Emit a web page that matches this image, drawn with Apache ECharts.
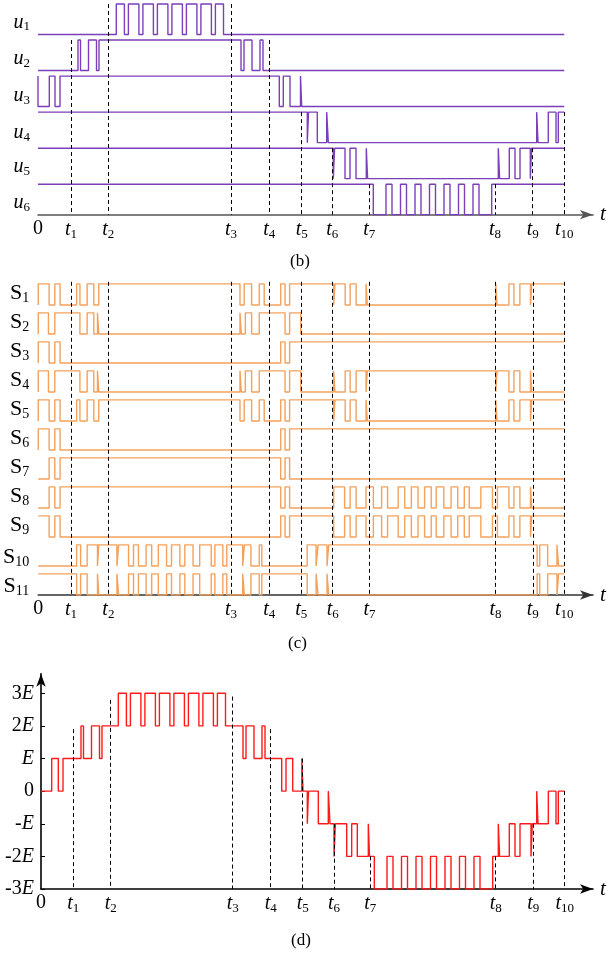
<!DOCTYPE html>
<html><head><meta charset="utf-8">
<script src="https://cdn.jsdelivr.net/npm/echarts@6/dist/echarts.min.js"></script>
<style>html,body{margin:0;padding:0;background:#fff}#c{width:608px;height:958px}</style>
</head><body><div id="c"></div>
<script>
// ---- tick positions (time) for each panel and labels
const tickLabels = ['0','1','2','3','4','5','6','7','8','9','10'];
const ticksB = [0,33,70.3,193,231.3,263.7,294.3,331.3,457,494.7,526.3];
const ticksC = [0,33,70.7,194.3,232.7,265,296.7,333.7,460.7,498.3,530];
const ticksD = [0,32.3,69.7,191.7,229.7,261.7,293,329.3,454.7,492.3,523.7];
// ---- panel (b): u1..u6 (start level 0/1, toggle times)
const uNames = ['1','2','3','4','5','6'];
const uStart = [0,0,1,1,1,1];
const u1 = [78.3,86.4,90.4,100.9,104.9,115.4,119.4,129.9,133.9,144.4,148.4,158.9,162.9,173.4,177.4,185.5];
const u2 = [40,42.5,50.5,58.5,61,203,206,214,222,225];
const u3 = [0,11.3,17,22,241.3,245.3,252,262.5,263.7];
const u4 = [269.3,270.5,279.3,288.7,290.3,498.7,500,510.3,518,520.3];
const u5 = [295.3,296.6,307,312,318,328.3,329.6,460.3,461.6,471.3,477,482,492.3,493.6];
const u6 = [335.3,348,354,362.5,368.5,377,383,391.5,397.5,406,412,420.5,426.5,435,441,453.7];
const uDashTop = [4.845,5.845,5.845,4.845,2.845,1.845,0.845,0.845,1.845,2.845];
// ---- panel (c): S1..S11
const sNames = ['1','2','3','4','5','6','7','8','9','10','11'];
const sStart = [0,0,0,0,0,0,0,0,1,0,1];
const S1 = [0,11,16.7,22,38.7,42,49.3,56,61,203.3,207.5,215,222.7,227.7,244.3,248.7,253.3,297.7,299,309.3,314.3,320.3,330.3,331.6,461,462.3,474.3,479.3,485.3,496,497.3];
const S2 = [0,10.3,16.7,42,49.3,56,59.7,61,203.3,204.6,208.7,215,222.7,248.7,253.3,264.5];
const S3 = [0,11,16.7,22,244.3,248.7,253.3];
const S4 = [0,10.3,16.7,42,49.3,56,59.7,61,203.3,204.6,208.7,215,222.7,248.7,253.3,264.5,297.7,299,309.3,314.3,320.3,330.3,331.6,461,462.3,474.3,479.3,485.3,496,497.3];
const S5 = [0,11,16.7,22,38.7,42,49.3,56,61,203.3,207.5,215,222.7,227.7,244.3,248.7,253.3,297.7,299,309.3,314.3,320.3,330.3,331.6,461,462.3,474.3,479.3,485.3,496,497.3];
const S6 = [0,11,16.7,22,244.3,248.7,253.3];
const S7 = [11,16.7,22,244.3,248.7,253.3];
const S8 = [11,16.7,22,244.3,248.7,253.3,297.7,308.7,314.3,320.3,330.3,337.7,346,352,362.7,369.3,376,382.7,389.3,396,401,408.7,416,422.7,429.3,434.3,446,457.7,462.7,474.3,479.3,485.3,496,497.3];
const S9 = [11,16.7,22,244.3,248.7,253.3,297.7,308.7,314.3,320.3,330.3,337.7,346,352,362.7,369.3,376,382.7,389.3,396,401,408.7,416,422.7,429.3,434.3,446,457.7,462.7,474.3,479.3,485.3,496,497.3];
const S10 = [38.7,42.7,49.3,59.7,61,79.3,81,91,96,101,108.7,114.3,121,129.3,134.3,142.7,147.7,156,162.7,174.3,178,186,190,206,207.7,214.3,222.7,225.3,271,280,282,291,292.7,502.7,505.3,513.3,522.7,524.3];
const S11 = [38.7,42.7,49.3,59.7,61,79.3,81,91,96,101,108.7,114.3,121,129.3,134.3,142.7,147.7,156,162.7,174.3,178,186,190,206,207.7,214.3,222.7,225.3,271,280,282,291,292.7,502.7,505.3,513.3,522.7,524.3];
const sDashTop = [10.8,10.8,10.8,10.8,10.8,10.8,10.8,10.8,10.8,10.8];
// ---- panel (d): output level (multiples of E) from each switching time
const dTimes = [0,10.7,17.3,22,40,42.5,50.5,58.5,61,
  77.3,85.4,89.4,99.9,103.9,114.4,118.4,128.9,132.9,143.4,147.4,157.9,161.9,172.4,176.4,184.5,
  202,205,213,221,224,240.7,245,251.7,260.8,262,266.3,267.5,277.3,287.3,289,293,294.4,305.7,310.7,316.3,327.3,328.5,
  333.3,346,352,360.5,366.5,375,381,389.5,395.5,404,410,418.5,424.5,433,439,451.7,
  457.3,458.6,468.3,474,479,490,491.3,495.7,497,507.3,515,517.3];
const dLevels = [0,1,0,1,2,1,2,1,2,
  3,2,3,2,3,2,3,2,3,2,3,2,3,2,3,2,
  1,2,1,2,1,0,1,0,1,0,-1,0,-1,0,-1,-2,-1,-2,-1,-2,-1,-2,
  -3,-2,-3,-2,-3,-2,-3,-2,-3,-2,-3,-2,-3,-2,-3,-2,
  -1,-2,-1,-2,-1,-2,-1,0,-1,0,-1,0];
const dDashTop = [1.9,2.8,2.9,1.9,1,-1,-2,-2,-1,0];

const PURPLE = '#7c3fbb', ORANGE = '#f5a15c', RED = '#ff1a1a';
const SERIF = 'Liberation Serif';

function wave(start, edges, lo, hi, end) {
  let s = start; const lv = () => (s ? hi : lo);
  const pts = [[0, lv()]];
  for (const e of edges) { pts.push([e, lv()]); s = 1 - s; pts.push([e, lv()]); }
  pts.push([end, lv()]);
  return pts;
}
function steps(levels, times, end) {
  const pts = [];
  for (let i = 0; i < times.length; i++) {
    if (i > 0) pts.push([times[i], levels[i - 1]]);
    pts.push([times[i], levels[i]]);
  }
  pts.push([end, levels[levels.length - 1]]);
  return pts;
}
const richT = {
  i: {fontFamily: SERIF, fontStyle: 'italic', fontSize: 20, color: '#000'},
  n: {fontFamily: SERIF, fontSize: 20, color: '#000'},
  s: {fontFamily: SERIF, fontSize: 13, color: '#000', padding: [9, 0, 0, 0]}
};
function tickFmt(ticks) {
  return v => { const k = ticks.findIndex(t => Math.abs(t - v) < 1e-6); if (k <= 0) return '{n|0}'; return '{i|t}{s|' + tickLabels[k] + '}'; };
}
function xAxisFor(grid, ticks, max, color) {
  return {gridIndex: grid, type: 'value', min: 0, max: max,
    axisLine: {show: true, onZero: false, symbol: ['none', 'arrow'], symbolSize: [7, 13], lineStyle: {color: color, width: 1.6}},
    axisTick: {show: false}, splitLine: {show: false},
    axisLabel: {customValues: ticks, formatter: tickFmt(ticks), rich: richT, margin: 4, showMinLabel: true, showMaxLabel: true},
    name: 't', nameLocation: 'end', nameGap: 7,
    nameTextStyle: {fontFamily: SERIF, fontStyle: 'italic', fontSize: 21, color: '#000', verticalAlign: 'middle'}};
}
const LS = (c) => ({color: c, width: 1.4, join: 'bevel', cap: 'butt'});
const series = [];
const uArr = [u1, u2, u3, u4, u5, u6];
uArr.forEach((e, k) => {
  const lo = 5 - k, hi = lo + 0.845;
  series.push({type: 'line', xAxisIndex: 0, yAxisIndex: 0, data: wave(uStart[k], e, lo, hi, ticksB[10]),
    symbol: 'none', lineStyle: LS(PURPLE), z: 3});
});
series[0].markLine = {silent: true, symbol: ['none', 'none'], animation: false,
  lineStyle: {color: '#000', width: 1, type: [4, 3]}, label: {show: false},
  data: ticksB.slice(1).map((t, i) => [{coord: [t, uDashTop[i]]}, {coord: [t, 0]}])};
const sArr = [S1, S2, S3, S4, S5, S6, S7, S8, S9, S10, S11];
sArr.forEach((e, k) => {
  const lo = 10 - k, hi = lo + 0.73;
  series.push({type: 'line', xAxisIndex: 1, yAxisIndex: 1, data: wave(sStart[k], e, lo, hi, ticksC[10]),
    symbol: 'none', lineStyle: LS(ORANGE), z: 3});
});
series[6].markLine = {silent: true, symbol: ['none', 'none'], animation: false,
  lineStyle: {color: '#000', width: 1, type: [4, 3]}, label: {show: false},
  data: ticksC.slice(1).map((t, i) => [{coord: [t, sDashTop[i]]}, {coord: [t, 0]}])};
series.push({type: 'line', xAxisIndex: 2, yAxisIndex: 2, data: steps(dLevels, dTimes, ticksD[10]),
  symbol: 'none', lineStyle: LS(RED), z: 3,
  markLine: {silent: true, symbol: ['none', 'none'], animation: false,
    lineStyle: {color: '#000', width: 1, type: [4, 3]}, label: {show: false},
    data: ticksD.slice(1).map((t, i) => [{coord: [t, dDashTop[i]]}, {coord: [t, -3]}])}});

const chart = echarts.init(document.getElementById('c'));
chart.setOption({
  animation: false,
  grid: [
    {left: 38, top: 2, width: 555, height: 212.7},
    {left: 34, top: 278.9, width: 559, height: 316.1},
    {left: 41, top: 673.7, width: 552, height: 215.3}
  ],
  xAxis: [xAxisFor(0, ticksB, 555, '#555'), xAxisFor(1, ticksC, 559, '#333'), xAxisFor(2, ticksD, 552, '#000')],
  yAxis: [
    {gridIndex: 0, type: 'value', min: 0, max: 5.9, axisLine: {show: false}, axisTick: {show: false}, splitLine: {show: false},
      axisLabel: {customValues: [5.33, 4.32, 3.3, 2.27, 1.32, 0.32], margin: 8, rich: richT,
        formatter: v => '{i|u}{s|' + uNames[5 - Math.round(v - 0.3)] + '}'}},
    {gridIndex: 1, type: 'value', min: 0, max: 10.9, axisLine: {show: false}, axisTick: {show: false}, splitLine: {show: false},
      axisLabel: {customValues: [10.4, 9.4, 8.4, 7.4, 6.4, 5.4, 4.4, 3.4, 2.4, 1.3, 0.3], margin: 9, rich: {
          n: {fontFamily: SERIF, fontSize: 22, color: '#000'},
          s: {fontFamily: SERIF, fontSize: 14, color: '#000', padding: [10, 0, 0, 0]}},
        formatter: v => '{n|S}{s|' + sNames[10 - Math.floor(v)] + '}'}},
    {gridIndex: 2, type: 'value', min: -3, max: 3.6,
      axisLine: {show: true, onZero: false, symbol: ['none', 'arrow'], symbolSize: [7, 13], lineStyle: {color: '#000', width: 1.6}},
      axisTick: {show: true, inside: true, length: 4, customValues: [-3, -2, -1, 0, 1, 2, 3], lineStyle: {color: '#000'}},
      splitLine: {show: false},
      axisLabel: {customValues: [-3, -2, -1, 0, 1, 2, 3], margin: 7, rich: richT,
        formatter: v => { const m = Math.round(v); if (m === 0) return '{n|0}'; const a = Math.abs(m);
          return '{n|' + (m < 0 ? '-' : '') + (a > 1 ? a : '') + '}{i|E}'; }}}
  ],
  graphic: [
    {type: 'text', left: 290, top: 253, style: {text: '(b)', font: '17px "Liberation Serif"', fill: '#000'}},
    {type: 'text', left: 288, top: 635, style: {text: '(c)', font: '17px "Liberation Serif"', fill: '#000'}},
    {type: 'text', left: 291, top: 932, style: {text: '(d)', font: '17px "Liberation Serif"', fill: '#000'}}
  ],
  series: series
});
</script></body></html>
